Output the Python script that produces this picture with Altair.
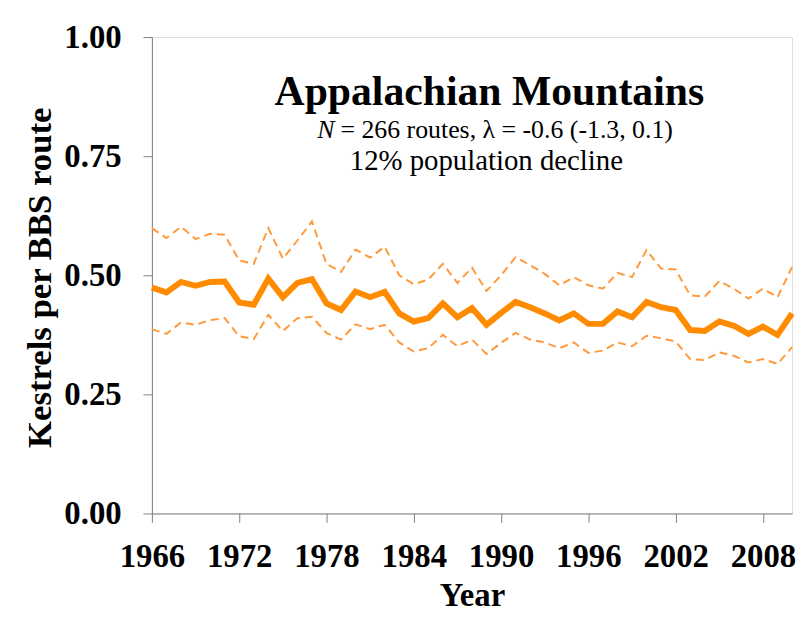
import altair as alt
import pandas as pd

years = list(range(1966, 2011))
mean = [0.474, 0.464, 0.486, 0.478, 0.486, 0.487, 0.443, 0.438, 0.493, 0.454,
        0.484, 0.492, 0.441, 0.427, 0.466, 0.454, 0.465, 0.420, 0.403, 0.410,
        0.441, 0.412, 0.431, 0.396, 0.421, 0.444, 0.433, 0.420, 0.405, 0.420,
        0.398, 0.398, 0.424, 0.412, 0.444, 0.433, 0.427, 0.385, 0.383, 0.403,
        0.394, 0.377, 0.392, 0.375, 0.420]
upper = [0.599, 0.578, 0.602, 0.576, 0.587, 0.585, 0.531, 0.524, 0.599, 0.535,
         0.573, 0.613, 0.524, 0.507, 0.554, 0.537, 0.560, 0.500, 0.481, 0.491,
         0.524, 0.484, 0.516, 0.467, 0.500, 0.538, 0.521, 0.503, 0.479, 0.496,
         0.479, 0.472, 0.505, 0.496, 0.553, 0.514, 0.512, 0.458, 0.455, 0.488,
         0.472, 0.451, 0.472, 0.454, 0.517]
lower = [0.387, 0.377, 0.401, 0.396, 0.406, 0.410, 0.372, 0.366, 0.417, 0.383,
         0.410, 0.413, 0.379, 0.365, 0.397, 0.387, 0.396, 0.359, 0.340, 0.347,
         0.375, 0.351, 0.365, 0.335, 0.358, 0.379, 0.365, 0.359, 0.347, 0.359,
         0.337, 0.342, 0.359, 0.351, 0.373, 0.368, 0.361, 0.324, 0.322, 0.338,
         0.331, 0.317, 0.324, 0.314, 0.349]

x_ticks = [1966, 1972, 1978, 1984, 1990, 1996, 2002, 2008]
y_ticks = [0, 0.25, 0.5, 0.75, 1.0]

title_text = "Appalachian Mountains"
sub_n = "N"
sub_rest = "= 266 routes, \u03bb = -0.6 (-1.3, 0.1)"
sub_line3 = "12% population decline"

FONT = "Liberation Serif, Times New Roman, serif"

df = pd.DataFrame({"Year": years, "mean": mean, "upper": upper, "lower": lower})

xscale = alt.Scale(domain=[1966, 2010], nice=False, zero=False)
yscale = alt.Scale(domain=[0, 1], nice=False)

xaxis = alt.Axis(values=x_ticks, format="d", title="Year", grid=False,
                 domainColor="#808080", tickColor="#808080", tickSize=9,
                 labelFont=FONT, labelFontSize=33, labelFontWeight="bold",
                 labelColor="black", labelPadding=18, labelFlush=False,
                 labelOverlap=False,
                 titleFont=FONT, titleFontSize=33, titleFontWeight="bold",
                 titleColor="black", titleY=93, titleBaseline="alphabetic")
yaxis = alt.Axis(values=y_ticks, format=".2f", title="Kestrels per BBS route",
                 grid=False, domainColor="#808080", tickColor="#808080",
                 tickSize=9, labelFont=FONT, labelFontSize=33,
                 labelFontWeight="bold", labelColor="black", labelPadding=22,
                 labelFlush=False, labelOverlap=False,
                 titleFont=FONT, titleFontSize=35, titleFontWeight="bold",
                 titleColor="black", titleAngle=270, titleX=-113, titleY=242,
                 titleAlign="center", titleBaseline="middle")

base = alt.Chart(df)

main_line = base.mark_line(color="#FF8C00", strokeWidth=6, strokeJoin="miter").encode(
    x=alt.X("Year:Q", scale=xscale, axis=xaxis),
    y=alt.Y("mean:Q", scale=yscale, axis=yaxis),
)
up_line = base.mark_line(color="#FF9A3C", strokeWidth=2, strokeDash=[8, 5]).encode(
    x=alt.X("Year:Q", scale=xscale),
    y=alt.Y("upper:Q", scale=yscale),
)
low_line = base.mark_line(color="#FF9A3C", strokeWidth=2, strokeDash=[8, 5]).encode(
    x=alt.X("Year:Q", scale=xscale),
    y=alt.Y("lower:Q", scale=yscale),
)

t1 = alt.Chart(pd.DataFrame({"t": [title_text]})).mark_text(
    font=FONT, fontSize=42, fontWeight="bold", color="black", align="center",
    baseline="alphabetic").encode(text="t:N", x=alt.value(340), y=alt.value(68))
t2a = alt.Chart(pd.DataFrame({"t": [sub_n]})).mark_text(
    font=FONT, fontSize=26, fontStyle="italic", color="black", align="right",
    baseline="alphabetic").encode(text="t:N", x=alt.value(184), y=alt.value(102))
t2b = alt.Chart(pd.DataFrame({"t": [sub_rest]})).mark_text(
    font=FONT, fontSize=26, color="black", align="left",
    baseline="alphabetic").encode(text="t:N", x=alt.value(190), y=alt.value(102))
t3 = alt.Chart(pd.DataFrame({"t": [sub_line3]})).mark_text(
    font=FONT, fontSize=29, color="black", align="center",
    baseline="alphabetic").encode(text="t:N", x=alt.value(337), y=alt.value(134))

chart = alt.layer(up_line, low_line, main_line, t1, t2a, t2b, t3).properties(
    width=645, height=480,
    autosize=alt.AutoSizeParams(type="none"),
    padding={"left": 145, "top": 27, "right": 5, "bottom": 100},
).configure_view(stroke=None).configure(background="white")

chart.save("out.html", embed_options={"renderer": "svg", "actions": False})
